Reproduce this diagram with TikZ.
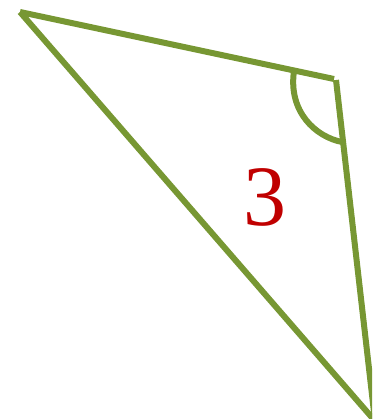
\documentclass[tikz,border=0pt]{standalone}
\usepackage{fontspec}
\setmainfont{Liberation Serif}
\definecolor{olive}{RGB}{119,151,51}
\definecolor{darkred}{RGB}{192,0,0}
\tikzset{edge/.style={draw=olive,line width=6pt},
  lbl/.style={text=darkred,font=\fontsize{86}{86}\selectfont,inner sep=0pt}}
\begin{document}
\begin{tikzpicture}[x=1pt,y=-1pt]
\useasboundingbox (0,0) rectangle (372,419);
\clip (0,0) rectangle (372,419);
\coordinate (A) at (20,12);
\coordinate (B) at (334,79);
\coordinate (B2) at (336,80);
\coordinate (C) at (375,421);
\coordinate (P) at (294,71);
\coordinate (Q) at (342,142);
\draw[edge] (A) -- (B);
\draw[edge] (B2) -- (C);
\draw[edge] (A) -- (C);
\draw[edge] (P) .. controls (288,112) and (316,137) .. (Q);
\node[lbl] (n3) at (265,197) {3};
\end{tikzpicture}
\end{document}
